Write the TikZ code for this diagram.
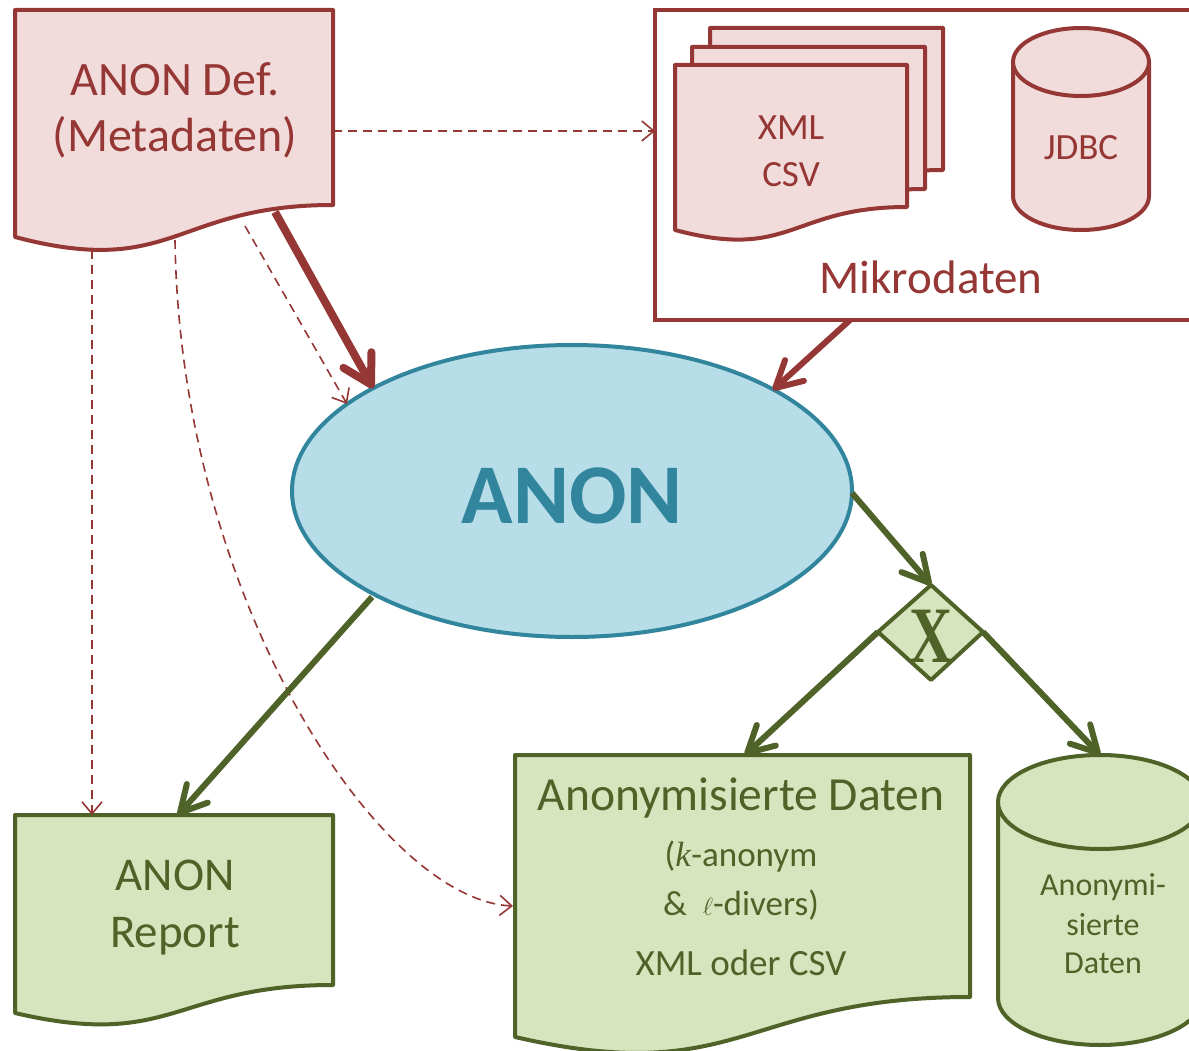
\documentclass[tikz,border=0pt]{standalone}
\usepackage{fontspec}
\setmainfont{Carlito}
\newfontfamily\xfont{Liberation Serif}
\usetikzlibrary{arrows.meta,shapes.geometric}
\definecolor{rd}{HTML}{953735}
\definecolor{rdfill}{HTML}{F2DCDB}
\definecolor{gn}{HTML}{4F6228}
\definecolor{gnfill}{HTML}{D7E4BD}
\definecolor{bl}{HTML}{31859C}
\definecolor{blfill}{HTML}{B7DDE8}
\tikzset{
  redshape/.style={draw=rd, fill=rdfill, line width=4pt, line join=round},
  greenshape/.style={draw=gn, fill=gnfill, line width=4pt, line join=round},
  redbig/.style={draw=rd, line width=8pt, -{Straight Barb[length=28pt,width=32pt,round]}},
  redmid/.style={draw=rd, line width=6pt, -{Straight Barb[length=26pt,width=28pt,round]}},
  greenarr/.style={draw=gn, line width=6pt, -{Straight Barb[length=26pt,width=28pt,round]}},
  reddash/.style={draw=rd, line width=1.6pt, dash pattern=on 9pt off 6pt, -{Straight Barb[length=12pt,width=20pt]}},
  redtxt/.style={text=rd, inner sep=0pt, anchor=base},
  greentxt/.style={text=gn, inner sep=0pt, anchor=base},
}
\begin{document}
\begin{tikzpicture}[x=1pt,y=-1pt]
\path[use as bounding box, clip] (0,0) rectangle (1189,1051);
\fill[white] (0,0) rectangle (1189,1051);

% ---- Mikrodaten box
\draw[draw=rd, line width=4pt] (655,10) rectangle (1200,320);
% stacked docs
\path[redshape] (710,28) -- (943,28) -- (943,170) .. controls (826,170) and (826,224) .. (710,193) -- cycle;
\path[redshape] (692,47) -- (925,47) -- (925,189) .. controls (808,189) and (808,243) .. (692,212) -- cycle;
\path[redshape] (675,65) -- (907,65) -- (907,207) .. controls (791,207) and (791,261) .. (675,230) -- cycle;
\node[redtxt, font=\fontsize{37}{40}\selectfont] (xml) at (791,140) {XML};
\node[redtxt, font=\fontsize{37}{40}\selectfont] (csv) at (791,187) {CSV};
% JDBC cylinder
\path[redshape] (1013,62) -- (1013,196) arc[start angle=180, end angle=0, x radius=68, y radius=34] -- (1149,62) -- cycle;
\path[redshape] (1081,62) ellipse [x radius=68, y radius=34];
\node[redtxt, font=\fontsize{37}{40}\selectfont] (jdbc) at (1081,160) {JDBC};
\node[redtxt, font=\fontsize{47}{50}\selectfont] (mikro) at (931,293) {Mikrodaten};

% ---- ANON Def document
\path[redshape] (15,10) -- (333,10) -- (333,205) .. controls (174,205) and (174,279) .. (15,237) -- cycle;
\node[redtxt, font=\fontsize{48}{50}\selectfont] (def1) at (175,96) {ANON Def.};
\node[redtxt, font=\fontsize{48}{50}\selectfont] (def2) at (175,152) {(Metadaten)};

% ---- ANON ellipse
\node[ellipse, draw=bl, fill=blfill, line width=4pt, minimum width=560pt, minimum height=292pt, inner sep=0pt] (anon) at (572,491) {};
\node[text=bl, inner sep=0pt, anchor=base, font=\fontsize{85}{90}\selectfont\bfseries] (anontxt) at (572,523) {ANON};

% ---- ANON Report document
\path[greenshape] (15,815) -- (333,815) -- (333,985) .. controls (174,985) and (174,1050) .. (15,1013) -- cycle;
\node[greentxt, font=\fontsize{47}{50}\selectfont] (rep1) at (175,890) {ANON};
\node[greentxt, font=\fontsize{47}{50}\selectfont] (rep2) at (175,947) {Report};

% ---- Anonymisierte Daten document
\path[greenshape] (515,755) -- (970,755) -- (970,997) .. controls (742,997) and (742,1089) .. (515,1037) -- cycle;
\node[greentxt, font=\fontsize{47.5}{50}\selectfont] (ad1) at (741,810) {Anonymisierte Daten};
\node[greentxt, font=\fontsize{35}{40}\selectfont] (ad2) at (741,866) {(\textit{\xfont k}-anonym};
\node[greentxt, font=\fontsize{35}{40}\selectfont] (ad3) at (741,915) {\&\ \ $\ell$-divers)};
\node[greentxt, font=\fontsize{37}{40}\selectfont] (ad4) at (741,975) {XML oder CSV};

% ---- green cylinder
\path[greenshape] (998,802) -- (998,998) arc[start angle=180, end angle=0, x radius=102, y radius=47] -- (1202,802) -- cycle;
\path[greenshape] (1100,802) ellipse [x radius=102, y radius=47];
\node[greentxt, font=\fontsize{32}{36}\selectfont] (cy1) at (1103,895) {Anonymi-};
\node[greentxt, font=\fontsize{32}{36}\selectfont] (cy2) at (1103,935) {sierte};
\node[greentxt, font=\fontsize{32}{36}\selectfont] (cy3) at (1103,973) {Daten};

% ---- diamond X
\path[greenshape] (931,585) -- (983,632) -- (931,680) -- (878,632) -- cycle;
\node[greentxt, font=\fontsize{80}{84}\selectfont\xfont\bfseries] (xtxt) at (931,662) {\scalebox{0.75}[1]{X}};

% ---- coordinates
\coordinate (defR) at (333,131);
\coordinate (mikroL) at (655,131);
\coordinate (defA) at (275,212);
\coordinate (anonA) at (373,388);
\coordinate (defB) at (245,226);
\coordinate (anonB) at (347,404);
\coordinate (defC) at (92,250);
\coordinate (repA) at (92,815);
\coordinate (defD) at (175,240);
\coordinate (adL) at (513,906);
\coordinate (mikroB) at (850,320);
\coordinate (anonC) at (773,390);
\coordinate (anonD) at (372,597);
\coordinate (repB) at (178,815);
\coordinate (anonE) at (852,493);
\coordinate (diaT) at (931,585);
\coordinate (diaL) at (878,632);
\coordinate (diaR) at (983,632);
\coordinate (adT) at (745,755);
\coordinate (cyT) at (1100,755);

% ---- connectors
\draw[reddash] (defR) -- (mikroL);
\draw[reddash] (defB) -- (anonB);
\draw[reddash] (defC) -- (repA);
\draw[reddash] (defD) .. controls (180,600) and (380,900) .. (adL);
\draw[redbig] (defA) -- (anonA);
\draw[redmid] (mikroB) -- (anonC);
\draw[greenarr] (anonD) -- (repB);
\draw[greenarr] (anonE) -- (diaT);
\draw[greenarr] (diaL) -- (adT);
\draw[greenarr] (diaR) -- (cyT);
\end{tikzpicture}
\end{document}
